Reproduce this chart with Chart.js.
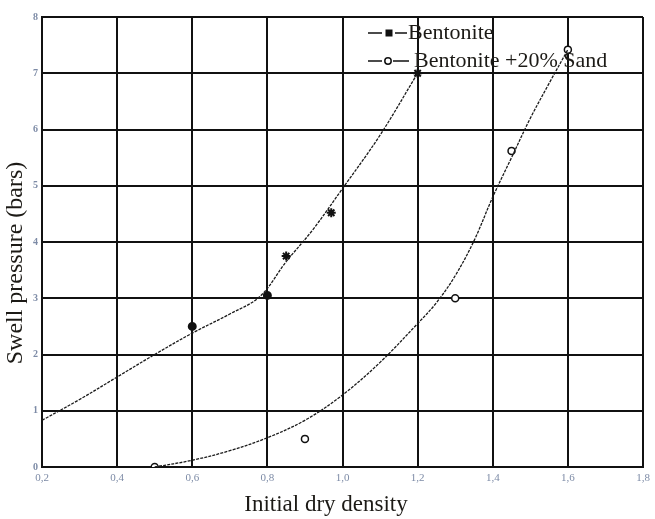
<!DOCTYPE html>
<html>
<head>
<meta charset="utf-8">
<title>Swell pressure vs initial dry density</title>
<script src="https://cdn.jsdelivr.net/npm/chart.js@4.4.1/dist/chart.umd.min.js"></script>
<style>
  html, body { margin: 0; padding: 0; background: #fff; }
  #wrap { width: 655px; height: 519px; position: relative; }
</style>
</head>
<body>
<div id="wrap"><canvas id="c" width="655" height="519"></canvas></div>
<script>
// Measured points
const bentoniteX = [0.60, 0.80, 0.85, 0.97, 1.20];
const bentoniteY = [2.50, 3.05, 3.75, 4.52, 7.00];
const sandX = [0.50, 0.90, 1.30, 1.45, 1.60];
const sandY = [0.00, 0.50, 3.00, 5.62, 7.42];

// Fitted trend curves
const bentoniteFitX = [0.20, 0.30, 0.40, 0.50, 0.60, 0.70, 0.78, 0.85, 0.92, 1.00, 1.10, 1.20];
const bentoniteFitY = [0.83, 1.20, 1.60, 2.00, 2.38, 2.72, 3.03, 3.65, 4.21, 4.95, 5.90, 7.00];
const sandFitX = [0.50, 0.60, 0.70, 0.80, 0.90, 1.00, 1.10, 1.20, 1.25, 1.30, 1.35, 1.40, 1.45, 1.50, 1.55, 1.60];
const sandFitY = [0.00, 0.12, 0.29, 0.52, 0.83, 1.28, 1.86, 2.55, 2.92, 3.40, 4.02, 4.80, 5.50, 6.20, 6.82, 7.42];

// Axis tick labels (decimal comma)
const xTickLabels = ['0,2', '0,4', '0,6', '0,8', '1,0', '1,2', '1,4', '1,6', '1,8'];
const yTickLabels = ['0', '1', '2', '3', '4', '5', '6', '7', '8'];

const seriesNames = ['Bentonite', 'Bentonite +20% Sand'];
const xTitle = 'Initial dry density';
const yTitle = 'Swell pressure (bars)';

const toXY = (xs, ys) => xs.map((x, i) => ({ x: x, y: ys[i] }));

const SERIF = "'Liberation Serif', 'Times New Roman', serif";
const INK = '#111';
const TEXT = '#1c1a16';

// Draws the axis titles and the inset legend
const decorations = {
  id: 'decorations',
  afterDraw(chart) {
    const ctx = chart.ctx;
    ctx.save();
    ctx.fillStyle = TEXT;
    ctx.textAlign = 'center';
    ctx.textBaseline = 'alphabetic';
    ctx.font = '23px ' + SERIF;
    ctx.fillText(xTitle, 326, 511);
    ctx.font = '24px ' + SERIF;
    ctx.translate(22, 263);
    ctx.rotate(-Math.PI / 2);
    ctx.fillText(yTitle, 0, 0);
    ctx.restore();

    // legend
    ctx.save();
    ctx.strokeStyle = INK;
    ctx.lineWidth = 1.5;
    ctx.font = '22px ' + SERIF;
    ctx.textAlign = 'left';
    ctx.textBaseline = 'alphabetic';
    const rows = [
      { y: 33, filled: true, l1: [368, 382], l2: [395, 407], mx: 389, tx: 408, base: 39 },
      { y: 61, filled: false, l1: [368, 382], l2: [393, 409], mx: 388, tx: 414, base: 67 }
    ];
    rows.forEach((r, i) => {
      ctx.beginPath();
      ctx.moveTo(r.l1[0], r.y); ctx.lineTo(r.l1[1], r.y);
      ctx.moveTo(r.l2[0], r.y); ctx.lineTo(r.l2[1], r.y);
      ctx.stroke();
      ctx.beginPath();
      if (r.filled) {
        ctx.fillStyle = INK;
        ctx.fillRect(r.mx - 3.5, r.y - 3.5, 7, 7);
      } else {
        ctx.fillStyle = '#fff';
        ctx.arc(r.mx, r.y, 3.2, 0, Math.PI * 2);
        ctx.fill();
        ctx.stroke();
      }
      ctx.fillStyle = TEXT;
      ctx.fillText(seriesNames[i], r.tx, r.base);
    });
    ctx.restore();
  }
};

const fitStyle = {
  showLine: true,
  pointRadius: 0,
  borderColor: '#1a1a1a',
  borderWidth: 1.3,
  borderDash: [3, 1.2],
  tension: 0.35,
  fill: false
};

new Chart(document.getElementById('c'), {
  type: 'scatter',
  data: {
    datasets: [
      Object.assign({ label: seriesNames[0] + ' fit', data: toXY(bentoniteFitX, bentoniteFitY) }, fitStyle),
      Object.assign({ label: seriesNames[1] + ' fit', data: toXY(sandFitX, sandFitY) }, fitStyle),
      {
        label: seriesNames[0],
        data: toXY(bentoniteX, bentoniteY),
        showLine: false,
        pointStyle: ['circle', 'circle', 'star', 'star', 'star'],
        pointRadius: [3.5, 3.5, 4.5, 4.5, 4.5],
        pointBackgroundColor: INK,
        pointBorderColor: INK,
        pointBorderWidth: 2
      },
      {
        label: seriesNames[1],
        data: toXY(sandX, sandY),
        showLine: false,
        pointStyle: 'circle',
        pointRadius: 3.5,
        pointBackgroundColor: '#fff',
        pointBorderColor: INK,
        pointBorderWidth: 1.5
      }
    ]
  },
  options: {
    responsive: false,
    animation: false,
    layout: { padding: { top: 17, right: 12, left: 0, bottom: 0 } },
    plugins: {
      legend: { display: false },
      tooltip: { enabled: false }
    },
    scales: {
      x: {
        type: 'linear',
        min: 0.2,
        max: 1.8,
        afterFit: s => { s.height = 52; },
        ticks: {
          stepSize: 0.2,
          padding: 5,
          color: '#7d8ba6',
          font: { family: SERIF, size: 11 },
          maxRotation: 0,
          callback: (v, i) => xTickLabels[i]
        },
        grid: { color: INK, lineWidth: 2, drawTicks: false },
        border: { display: true, color: INK, width: 2 }
      },
      y: {
        type: 'linear',
        min: 0,
        max: 8,
        afterFit: s => { s.width = 42; },
        ticks: {
          stepSize: 1,
          padding: 4,
          color: '#7d8ba6',
          font: { family: SERIF, size: 10, weight: 'bold' },
          callback: (v, i) => yTickLabels[i]
        },
        grid: { color: INK, lineWidth: 2, drawTicks: false },
        border: { display: true, color: INK, width: 2 }
      }
    }
  },
  plugins: [decorations]
});
</script>
</body>
</html>
